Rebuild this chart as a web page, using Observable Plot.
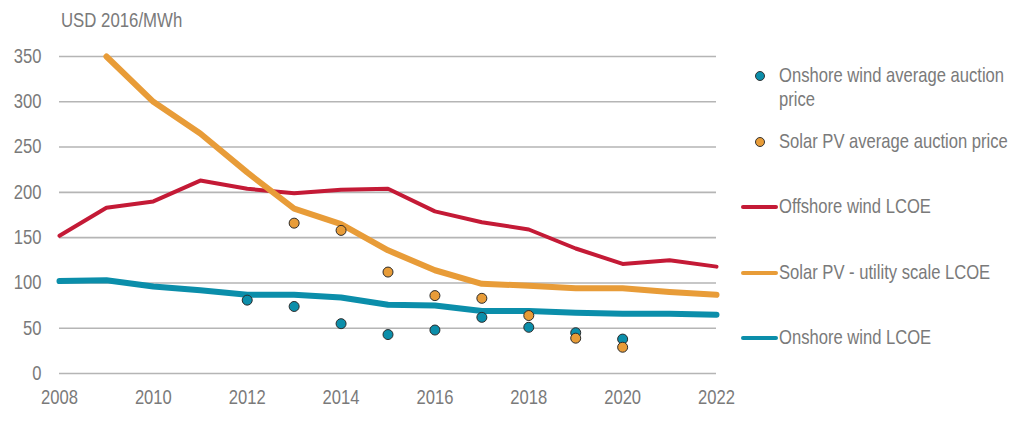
<!DOCTYPE html>
<html>
<head>
<meta charset="utf-8">
<script src="https://cdn.jsdelivr.net/npm/d3@7"></script>
<script src="https://cdn.jsdelivr.net/npm/@observablehq/plot@0.6"></script>
<style>
  html, body { margin: 0; padding: 0; background: #fff; }
  #wrap { position: relative; width: 1024px; height: 440px; font-family: "Liberation Sans", Arial, sans-serif; color: #7a7a7a; }
  #ylabel { position: absolute; left: 61px; top: 9px; font-size: 16.8px; line-height: 20px; color: #7a7a7a; transform: scaleY(1.2); transform-origin: 0 0; white-space: nowrap; }
  .leg { position: absolute; font-size: 16.6px; color: #7a7a7a; line-height: 20px; transform: scaleY(1.2); transform-origin: 0 0; white-space: nowrap; }
  .ldot { position: absolute; width: 8px; height: 8px; border-radius: 50%; border: 1px solid #333; }
  .lline { position: absolute; height: 4px; border-radius: 2px; width: 37px; }
</style>
</head>
<body>
<div id="wrap">
  <div id="chart"></div>
  <div id="ylabel">USD 2016/MWh</div>
</div>
<script>
const years = [2008, 2009, 2010, 2011, 2012, 2013, 2014, 2015, 2016, 2017, 2018, 2019, 2020, 2021, 2022];
const offshoreLCOE = [152, 183, 190, 213, 204, 199, 203, 204, 179, 167, 159, 138, 121, 125, 118];
const onshoreLCOE = [102, 103, 96, 92, 87, 87, 84, 76, 75, 69, 69, 67, 66, 66, 65];
const solarYears = [2009, 2010, 2011, 2012, 2013, 2014, 2015, 2016, 2017, 2018, 2019, 2020, 2021, 2022];
const solarLCOE = [350, 300, 265, 222, 182, 165, 136, 114, 99, 97, 94, 94, 90, 87];
const onshoreAuctionYears = [2012, 2013, 2014, 2015, 2016, 2017, 2018, 2019, 2020];
const onshoreAuction = [81, 74, 55, 43, 48, 62, 51, 45, 38];
const solarAuctionYears = [2013, 2014, 2015, 2016, 2017, 2018, 2019, 2020];
const solarAuction = [166, 158, 112, 86, 83, 64, 39, 29];
const yTicks = [0, 50, 100, 150, 200, 250, 300, 350];
const xTicks = [2008, 2010, 2012, 2014, 2016, 2018, 2020, 2022];

const colors = {
  offshore: "#c41a36",
  solar: "#e89c38",
  onshore: "#0b8eaa",
};

const legendItems = [
  { kind: "dot", label: "Onshore wind average auction\nprice", color: colors.onshore },
  { kind: "dot", label: "Solar PV average auction price", color: colors.solar },
  { kind: "line", label: "Offshore wind LCOE", color: colors.offshore },
  { kind: "line", label: "Solar PV - utility scale LCOE", color: colors.solar },
  { kind: "line", label: "Onshore wind LCOE", color: colors.onshore },
];

const off = years.map((y, i) => ({ x: y, v: offshoreLCOE[i] }));
const on = years.map((y, i) => ({ x: y, v: onshoreLCOE[i] }));
const sol = solarYears.map((y, i) => ({ x: y, v: solarLCOE[i] }));
const onA = onshoreAuctionYears.map((y, i) => ({ x: y, v: onshoreAuction[i] }));
const solA = solarAuctionYears.map((y, i) => ({ x: y, v: solarAuction[i] }));

const plot = Plot.plot({
  width: 1024,
  height: 440,
  marginLeft: 59,
  marginRight: 308,
  marginTop: 56,
  marginBottom: 67,
  style: { fontFamily: "'Liberation Sans', Arial, sans-serif", fontSize: "16.6px", color: "#7a7a7a", background: "#fff" },
  x: { domain: [2008, 2022], ticks: xTicks, tickFormat: "d", tickSize: 0, tickPadding: 16, label: null },
  y: { domain: [0, 350], ticks: yTicks, tickSize: 0, tickPadding: 18, label: null },
  marks: [
    Plot.ruleY(yTicks, { stroke: "#b5b5b5", strokeWidth: 1.6 }),
    Plot.line(off, { x: "x", y: "v", stroke: colors.offshore, strokeWidth: 4 }),
    Plot.line(sol, { x: "x", y: "v", stroke: colors.solar, strokeWidth: 6 }),
    Plot.line(on, { x: "x", y: "v", stroke: colors.onshore, strokeWidth: 6 }),
    Plot.dot(onA, { x: "x", y: "v", r: 5, fill: colors.onshore, stroke: "#2b2b2b", strokeWidth: 1 }),
    Plot.dot(solA, { x: "x", y: "v", r: 5, fill: colors.solar, stroke: "#2b2b2b", strokeWidth: 1 }),
  ],
});
plot.style.display = "block";

// Stretch axis tick labels vertically to match the reference's tall lettering
plot.querySelectorAll("g[aria-label$='tick label'] text").forEach((t) => {
  const xa = t.getAttribute("x");
  const ya = t.getAttribute("y");
  let px = 0, py = 0;
  if (xa !== null && xa !== "" && isFinite(+xa)) { px = +xa; t.removeAttribute("x"); }
  if (ya !== null && ya !== "" && isFinite(+ya)) { py = +ya; t.removeAttribute("y"); }
  const tr = t.getAttribute("transform") || "";
  t.setAttribute("transform", `${tr} translate(${px},${py}) scale(1,1.2)`.trim());
});
document.getElementById("chart").appendChild(plot);

// HTML legend
const wrap = document.getElementById("wrap");
const legendTops = [64, 130, 195, 261, 326];
legendItems.forEach((it, i) => {
  const top = legendTops[i];
  if (it.kind === "dot") {
    const d = document.createElement("div");
    d.className = "ldot";
    d.style.left = "755px";
    d.style.top = (top + 7) + "px";
    d.style.background = it.color;
    wrap.appendChild(d);
  } else {
    const l = document.createElement("div");
    l.className = "lline";
    l.style.left = "741px";
    l.style.top = (top + 10) + "px";
    l.style.background = it.color;
    wrap.appendChild(l);
  }
  const t = document.createElement("div");
  t.className = "leg";
  t.style.left = "779px";
  t.style.top = top + "px";
  t.innerHTML = it.label.split("\n").join("<br>");
  wrap.appendChild(t);
});
</script>
</body>
</html>
